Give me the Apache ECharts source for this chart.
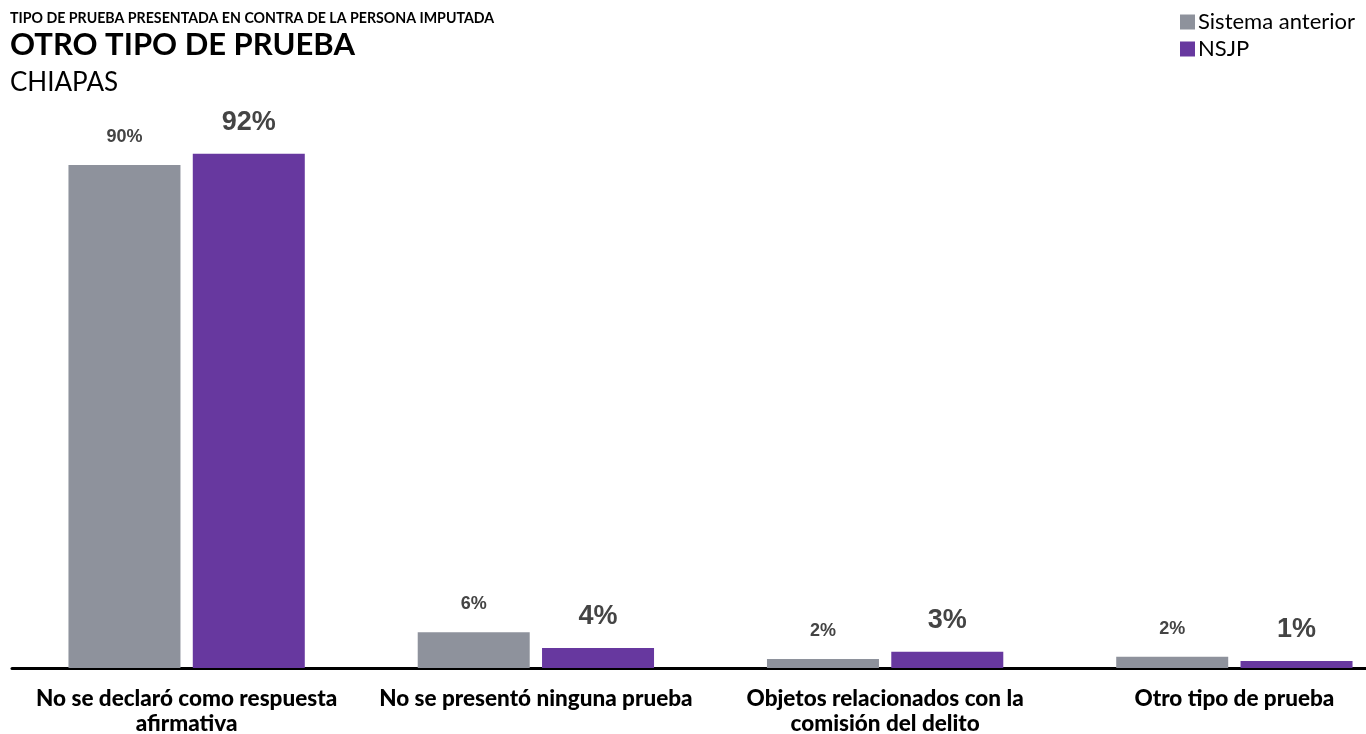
<!DOCTYPE html>
<html><head><meta charset="utf-8">
<script src="https://cdn.jsdelivr.net/npm/echarts@6/dist/echarts.min.js"></script>
<style>html,body{margin:0;padding:0;background:#fff}#c{width:1366px;height:734px}</style>
</head><body><div id="c"></div>
<script>
const categories = ['No se declaró como respuesta\nafirmativa', 'No se presentó ninguna prueba', 'Objetos relacionados con la\ncomisión del delito', 'Otro tipo de prueba'];
const sistemaAnterior = [90, 6.4, 1.6, 2.0];
const nsjp = [92, 3.6, 2.9, 1.25];
const seriesNames = ['Sistema anterior', 'NSJP'];

const chart = echarts.init(document.getElementById('c'));
chart.setOption({
  animation: false,
  title: [
    {text: 'TIPO DE PRUEBA PRESENTADA EN CONTRA DE LA PERSONA IMPUTADA', left: 5, top: 6,
     textStyle: {fontFamily: 'Lato', fontWeight: 'bold', fontSize: 14.2, color: '#000'}},
    {text: 'OTRO TIPO DE PRUEBA', left: 5, top: 24,
     textStyle: {fontFamily: 'Lato', fontWeight: 'bold', fontSize: 31, color: '#000'}},
    {text: 'CHIAPAS', left: 5, top: 65,
     textStyle: {fontFamily: 'Lato', fontWeight: 'normal', fontSize: 26, color: '#000'}}
  ],
  legend: {
    data: seriesNames, orient: 'vertical', left: 1175, top: 6, itemWidth: 15, itemHeight: 15, itemGap: 5,
    icon: 'rect',
    textStyle: {fontFamily: 'Lato', fontSize: 22, color: '#000', padding: [0, 0, 0, -2]}
  },
  grid: {left: 12, width: 1397, top: 109, bottom: 66, outerBoundsMode: 'none', containLabel: false},
  xAxis: {
    type: 'category', data: categories,
    axisLine: {lineStyle: {color: '#000', width: 3}},
    axisTick: {show: false},
    axisLabel: {interval: 0, margin: 18, fontFamily: 'Lato', fontWeight: 900, fontSize: 22.5, color: '#000', lineHeight: 25}
  },
  yAxis: {type: 'value', min: 0, max: 100, show: false, splitLine: {show: false}},
  series: [
    {name: seriesNames[0], type: 'bar', data: sistemaAnterior, barWidth: 112, barGap: '11%',
     itemStyle: {color: '#8e929c'},
     label: {show: true, position: 'top', distance: 19, fontFamily: 'Arial, Liberation Sans', fontWeight: 'bold', fontSize: 18, color: '#444',
       formatter: p => Math.round(p.value) + '%'}},
    {name: seriesNames[1], type: 'bar', data: nsjp, barWidth: 112,
     itemStyle: {color: '#67389f'},
     label: {show: true, position: 'top', distance: 18, fontFamily: 'Arial, Liberation Sans', fontWeight: 'bold', fontSize: 27, color: '#444',
       formatter: p => Math.round(p.value) + '%'}}
  ]
});
</script></body></html>
